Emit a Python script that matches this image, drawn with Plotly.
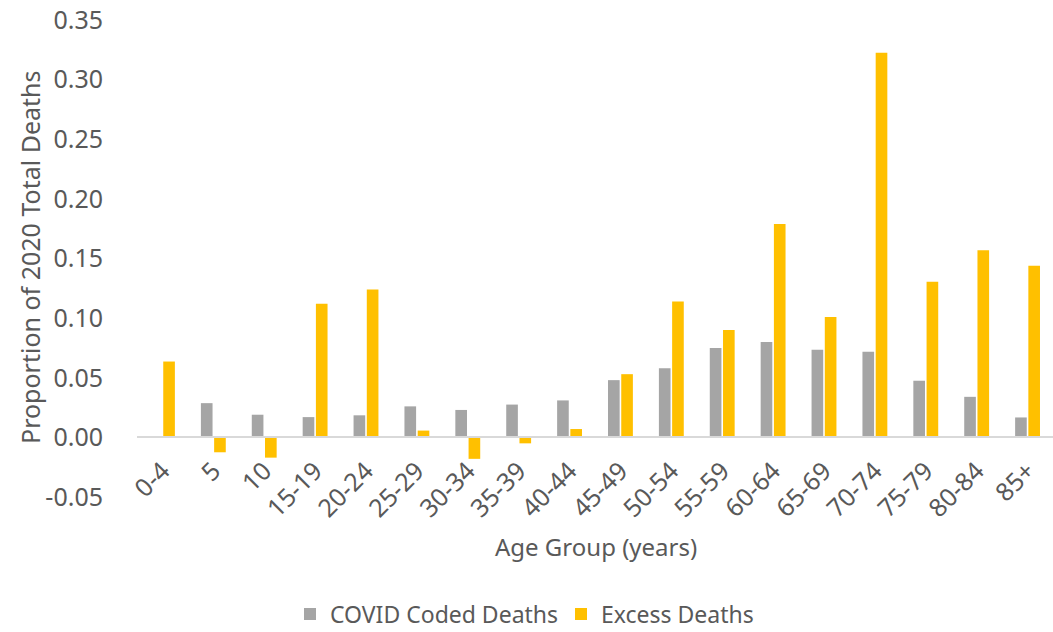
import plotly.graph_objects as go

age_groups = ["0-4", "5", "10", "15-19", "20-24", "25-29", "30-34", "35-39", "40-44",
              "45-49", "50-54", "55-59", "60-64", "65-69", "70-74", "75-79", "80-84", "85+"]
covid_coded = [0.0, 0.0287, 0.019, 0.017, 0.0185, 0.026, 0.023, 0.0275, 0.031,
               0.048, 0.058, 0.075, 0.080, 0.0735, 0.0717, 0.0475, 0.034, 0.0167]
excess = [0.0636, -0.0125, -0.017, 0.112, 0.124, 0.0057, -0.018, -0.005, 0.007,
          0.053, 0.114, 0.090, 0.179, 0.101, 0.3225, 0.1305, 0.157, 0.144]
y_ticks = [-0.05, 0.0, 0.05, 0.10, 0.15, 0.20, 0.25, 0.30, 0.35]
y_tick_text = ["-0.05", "0.00", "0.05", "0.10", "0.15", "0.20", "0.25", "0.30", "0.35"]

TEXT = "#595959"
FONT = "Noto Sans"

W, H = 1053, 632
L, R, T, B = 137, 0, 20, 135

fig = go.Figure()
fig.add_trace(go.Bar(x=age_groups, y=covid_coded, name="COVID Coded Deaths",
                     marker=dict(color="#A5A5A5", line=dict(width=0))))
fig.add_trace(go.Bar(x=age_groups, y=excess, name="Excess Deaths",
                     marker=dict(color="#FFC000", line=dict(width=0))))

ymin, ymax = -0.05, 0.35
plot_w = W - L - R
plot_h = H - T - B
fig.update_layout(
    width=W, height=H,
    paper_bgcolor="white", plot_bgcolor="white",
    margin=dict(l=L, r=R, t=T, b=B, autoexpand=False),
    barmode="group", bargap=0.48, bargroupgap=0.12,
    font=dict(family=FONT, color=TEXT, size=23),
    showlegend=True,
    legend=dict(orientation="h", x=(290 - L) / plot_w, xanchor="left",
                y=(H - B - 614) / plot_h, yanchor="middle",
                font=dict(size=23, color=TEXT),
                traceorder="normal", itemwidth=30, entrywidth=226),
    xaxis=dict(anchor="free", position=(0 - ymin) / (ymax - ymin),
               showline=True, linecolor="#D9D9D9", linewidth=2,
               tickangle=-45, ticks="outside", ticklen=8, tickcolor="rgba(0,0,0,0)",
               tickfont=dict(size=25, color=TEXT),
               showgrid=False),
    yaxis=dict(range=[ymin, ymax], tickvals=y_ticks, ticktext=y_tick_text,
               showgrid=False, zeroline=True, zerolinecolor="#D9D9D9", zerolinewidth=2,
               showline=False,
               ticks="outside", ticklen=28, tickcolor="rgba(0,0,0,0)",
               tickfont=dict(size=25, color=TEXT)),
)
fig.add_annotation(text="Age Group (years)", xref="paper", yref="paper",
                   x=(596 - L) / plot_w, y=(H - B - 546) / plot_h,
                   showarrow=False, font=dict(size=24, color=TEXT),
                   xanchor="center", yanchor="middle")
fig.add_annotation(text="Proportion of 2020 Total Deaths", xref="paper", yref="paper",
                   x=(30 - L) / plot_w, y=(H - B - 258) / plot_h,
                   textangle=-90, showarrow=False, font=dict(size=25, color=TEXT),
                   xanchor="center", yanchor="middle")

fig.write_html("out.html", config={"displayModeBar": False},
               post_script="document.body.style.margin='0';document.body.style.overflow='hidden';")
